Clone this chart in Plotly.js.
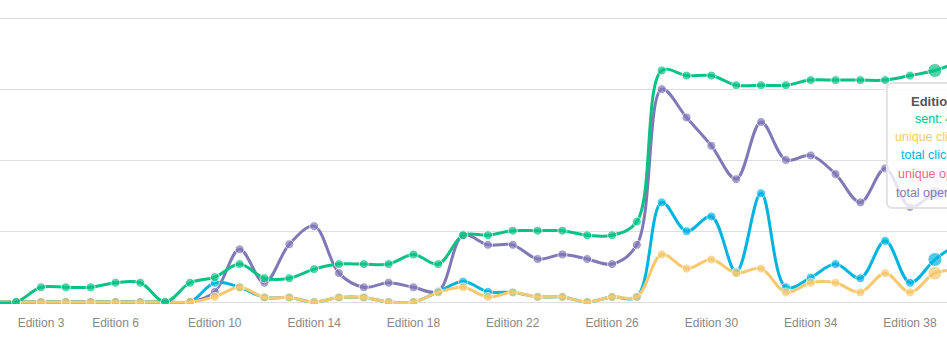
<!DOCTYPE html>
<html><head><meta charset="utf-8">
<script src="https://cdn.plot.ly/plotly-3.0.1.min.js"></script>
<style>html,body{margin:0;padding:0;background:#fff;} #chart{width:947px;height:359px;}</style>
</head><body><div id="chart"></div>
<script>
const editions = [1,2,3,4,5,6,7,8,9,10,11,12,13,14,15,16,17,18,19,20,21,22,23,24,25,26,27,28,29,30,31,32,33,34,35,36,37,38,39,40];
const sent = [0,0,26,26,26,34,34,0,34,44,67,42,42,58,67,67,67,84,67,118,118,126,126,126,118,118,142,409,400,400,383,383,383,392,392,392,392,400,409,425];
const uniqueClicks = [0,0,0,0,0,0,0,0,0,9,26,8,8,0,8,8,0,0,17,26,9,17,9,9,0,9,9,84,59,75,51,59,17,34,34,17,51,17,51,57];
const totalClicks = [0,0,0,0,0,0,0,0,0,34,26,8,8,0,8,8,0,0,18,36,18,17,9,9,0,9,9,176,125,151,53,192,26,43,67,42,108,34,75,105];
const uniqueOpens = [null,null,null,null,null,null,null,null,null,null,null,null,null,null,null,null,null,null,null,null,null,null,null,null,null,null,null,null,null,null,null,null,null,null,null,null,null,null,null,null];
const totalOpens = [0,0,0,0,0,0,0,0,0,18,93,34,102,134,51,26,34,26,19,118,101,101,76,84,76,67,101,376,326,276,217,318,251,259,226,176,236,168,192,200];
const tickEditions = [3,6,10,14,18,22,26,30,34,38];
const tickLabels = tickEditions.map(e => 'Edition ' + e);
const seriesNames = ['sent','unique clicks','total clicks','unique opens','total opens'];
const hoverEdition = 39;

const colors = {
  'sent': '#0bc185',
  'unique clicks': '#f7c96f',
  'total clicks': '#00b4e0',
  'unique opens': '#ff5f8a',
  'total opens': '#8179b7'
};
const valuesByName = {
  'sent': sent, 'unique clicks': uniqueClicks, 'total clicks': totalClicks,
  'unique opens': uniqueOpens, 'total opens': totalOpens
};
const FONT = 'Liberation Sans, Arial, Helvetica, sans-serif';

const drawOrder = ['total opens','unique opens','total clicks','unique clicks','sent'];
const traces = drawOrder.map(name => ({
  type: 'scatter',
  mode: 'lines+markers',
  name: name,
  x: editions,
  y: valuesByName[name],
  connectgaps: false,
  hoverinfo: 'skip',
  line: {color: colors[name], width: 3, shape: 'spline', smoothing: 1},
  marker: {
    color: colors[name],
    size: editions.map(e => e === hoverEdition ? 14 : 9),
    line: {color: '#ffffff', width: 1}
  }
}));

const idx = editions.indexOf(hoverEdition);
const fmt = v => (v === null || v === undefined) ? '-' : String(v);
const tipYs = [0.704, 0.645, 0.582, 0.519, 0.453, 0.387];
const annotations = [{
  xref: 'x', yref: 'paper', x: hoverEdition, xshift: 7, y: tipYs[0],
  yanchor: 'middle', xanchor: 'center', showarrow: false,
  text: '<b>Edition ' + hoverEdition + '</b>',
  font: {family: FONT, size: 13, color: '#555555'}
}].concat(seriesNames.map((name, i) => ({
  xref: 'x', yref: 'paper', x: hoverEdition, xshift: 6, y: tipYs[i + 1],
  yanchor: 'middle', xanchor: 'center', showarrow: false,
  text: name + ': ' + fmt(valuesByName[name][idx]),
  font: {family: FONT, size: 12.5, color: colors[name]}
})));

// tooltip box: rounded rectangle in pixel units anchored at the hovered edition
const bx0 = -48, bx1 = 130, bh = 125, br = 6;
const tipPath = 'M ' + (bx0 + br) + ',0 L ' + (bx1 - br) + ',0 Q ' + bx1 + ',0 ' + bx1 + ',' + (-br) +
  ' L ' + bx1 + ',' + (-bh + br) + ' Q ' + bx1 + ',' + (-bh) + ' ' + (bx1 - br) + ',' + (-bh) +
  ' L ' + (bx0 + br) + ',' + (-bh) + ' Q ' + bx0 + ',' + (-bh) + ' ' + bx0 + ',' + (-bh + br) +
  ' L ' + bx0 + ',' + (-br) + ' Q ' + bx0 + ',0 ' + (bx0 + br) + ',0 Z';

const layout = {
  width: 947, height: 359,
  margin: {l: 0, r: 0, t: 17, b: 55},
  paper_bgcolor: '#ffffff', plot_bgcolor: '#ffffff',
  showlegend: false,
  xaxis: {
    range: [1.349, 39.489],
    tickmode: 'array', tickvals: tickEditions, ticktext: tickLabels,
    showgrid: false, zeroline: false, showline: false, ticks: '',
    tickfont: {family: FONT, size: 12, color: '#888888'},
    ticklabelstandoff: 10,
    fixedrange: true
  },
  yaxis: {
    range: [-3.53, 503.5],
    tick0: 0, dtick: 125,
    showticklabels: false, ticks: '',
    gridcolor: '#dedede', gridwidth: 1,
    zeroline: false, showline: false,
    fixedrange: true
  },
  shapes: [{
    type: 'path', layer: 'above',
    xref: 'x', xsizemode: 'pixel', xanchor: hoverEdition,
    yref: 'y', ysizemode: 'pixel', yanchor: 387,
    path: tipPath,
    fillcolor: 'rgba(255,255,255,0.8)',
    line: {color: '#e2e2e2', width: 2}
  }],
  annotations: annotations
};

Plotly.newPlot('chart', traces, layout, {displayModeBar: false, staticPlot: true});
</script>
</body></html>
